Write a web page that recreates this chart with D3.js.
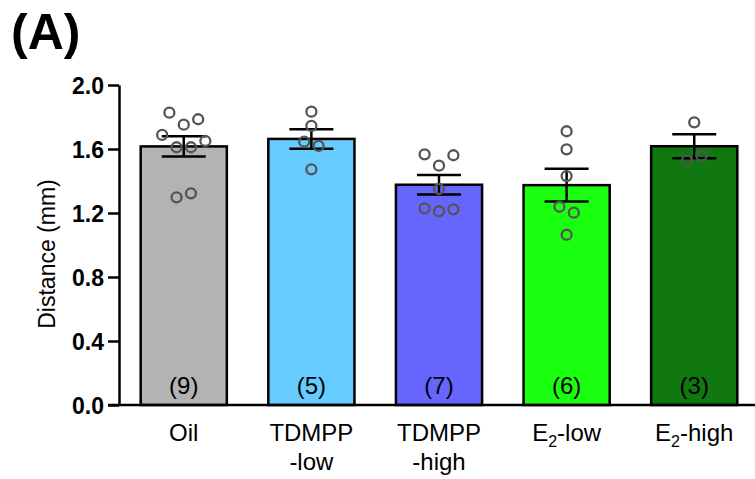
<!DOCTYPE html>
<html>
<head>
<meta charset="utf-8">
<script src="https://cdn.jsdelivr.net/npm/d3@7"></script>
<style>
  body { margin: 0; background: #fff; }
  svg { display: block; font-family: "Liberation Sans", Arial, sans-serif; }
</style>
</head>
<body>
<script>
// groups, colours and the individual animals (values in mm)
var groups = ["Oil", "TDMPP-low", "TDMPP-high", "E2-low", "E2-high"];
var colors = ["#b3b3b3", "#66ccff", "#6666ff", "#1aff0f", "#117711"];

var oilPts       = [1.827, 1.752, 1.786, 1.688, 1.650, 1.611, 1.611, 1.298, 1.323];
var tdmppLowPts  = [1.833, 1.744, 1.646, 1.619, 1.473];
var tdmppHighPts = [1.567, 1.561, 1.496, 1.350, 1.229, 1.211, 1.223];
var e2LowPts     = [1.711, 1.598, 1.431, 1.239, 1.202, 1.064];
var e2HighPts    = [1.767, 1.527, 1.558];

// column slot of each point in the scatter (as placed in the figure)
var oilSlots       = [-2, 0, 2, -3, 3, -1, 1, -1, 1];
var tdmppLowSlots  = [0, 0, -1, 1, 0];
var tdmppHighSlots = [-2, 2, 0, 0, -2, 0, 2];
var e2LowSlots     = [0, 0, 0, -1, 1, 0];
var e2HighSlots    = [0, -1, 1];

var yTicks = [0, 0.4, 0.8, 1.2, 1.6, 2.0];

var allPts = [oilPts, tdmppLowPts, tdmppHighPts, e2LowPts, e2HighPts];
var allSlots = [oilSlots, tdmppLowSlots, tdmppHighSlots, e2LowSlots, e2HighSlots];

var W = 755, H = 479;
var svg = d3.select("body").append("svg").attr("width", W).attr("height", H);

var x = d3.scaleBand().domain(groups).range([119, 759]).paddingInner(0.325).paddingOuter(0.17);
var y = d3.scaleLinear().domain([0, 2]).range([405, 85]);
var jit = d3.scaleLinear().domain([-3, 3]).range([-21.6, 21.6]);

// summary per group
var stats = groups.map(function(g, i){
    var v = allPts[i];
    var m = d3.mean(v);
    var sem = d3.deviation(v) / Math.sqrt(v.length);
    return {group: g, mean: m, sem: sem, n: v.length, color: colors[i]};
});

// bars
svg.selectAll("rect.bar").data(stats).enter()
   .append("rect")
   .attr("class", "bar")
   .attr("x", function(d){ return x(d.group); })
   .attr("y", function(d){ return y(d.mean); })
   .attr("width", x.bandwidth())
   .attr("height", function(d){ return y(0) - y(d.mean); })
   .attr("fill", function(d){ return d.color; })
   .attr("stroke", "#000")
   .attr("stroke-width", 2.5);

// n labels
svg.selectAll("text.n").data(stats).enter()
   .append("text")
   .attr("class", "n")
   .attr("x", function(d){ return x(d.group) + x.bandwidth() / 2; })
   .attr("y", 394)
   .attr("text-anchor", "middle")
   .attr("font-size", 24)
   .text(function(d){ return "(" + d.n + ")"; });

// error bars
var eb = svg.selectAll("g.err").data(stats).enter().append("g")
   .attr("class", "err")
   .attr("stroke", "#000")
   .attr("stroke-width", 2.5);
eb.append("line")
  .attr("x1", function(d){ return x(d.group) + x.bandwidth() / 2; })
  .attr("x2", function(d){ return x(d.group) + x.bandwidth() / 2; })
  .attr("y1", function(d){ return y(d.mean - d.sem); })
  .attr("y2", function(d){ return y(d.mean + d.sem); });
[-1, 1].forEach(function(s){
    eb.append("line")
      .attr("x1", function(d){ return x(d.group) + x.bandwidth() / 2 - 22; })
      .attr("x2", function(d){ return x(d.group) + x.bandwidth() / 2 + 22; })
      .attr("y1", function(d){ return y(d.mean + s * d.sem); })
      .attr("y2", function(d){ return y(d.mean + s * d.sem); });
});

// individual points
var pts = [];
groups.forEach(function(g, i){
    allPts[i].forEach(function(v, j){ pts.push({group: g, v: v, slot: allSlots[i][j]}); });
});
svg.selectAll("circle.pt").data(pts).enter()
   .append("circle")
   .attr("class", "pt")
   .attr("cx", function(d){ return x(d.group) + x.bandwidth() / 2 + jit(d.slot); })
   .attr("cy", function(d){ return y(d.v); })
   .attr("r", 5)
   .attr("fill", "none")
   .attr("stroke", "#555")
   .attr("stroke-width", 2.3);

// y axis
var yAxis = d3.axisLeft(y).tickValues(yTicks).tickSize(11).tickSizeOuter(0)
              .tickFormat(d3.format(".1f"));
var yg = svg.append("g").attr("transform", "translate(119,0)").call(yAxis);
yg.selectAll("path, line").attr("stroke", "#000").attr("stroke-width", 2.5);
yg.selectAll("text").attr("font-size", 23).attr("font-weight", "bold")
  .attr("font-family", "'Liberation Sans', Arial, sans-serif")
  .attr("fill", "#000").attr("x", -15).attr("dy", "0.36em");

// x axis line
svg.append("line")
   .attr("x1", 108).attr("x2", W)
   .attr("y1", y(0)).attr("y2", y(0))
   .attr("stroke", "#000").attr("stroke-width", 2.5);

// x labels
var labelLines = {
    "Oil": [["Oil"]],
    "TDMPP-low": [["TDMPP"], ["-low"]],
    "TDMPP-high": [["TDMPP"], ["-high"]],
    "E2-low": [["E", "2", "-low"]],
    "E2-high": [["E", "2", "-high"]]
};
groups.forEach(function(g){
    var cx = x(g) + x.bandwidth() / 2;
    labelLines[g].forEach(function(parts, li){
        var t = svg.append("text")
            .attr("x", cx).attr("y", 441 + li * 29)
            .attr("text-anchor", "middle")
            .attr("font-size", 24);
        if(parts.length == 1){
            t.text(parts[0]);
        }else{
            t.append("tspan").text(parts[0]);
            t.append("tspan").attr("font-size", 16).attr("dy", 6).text(parts[1]);
            t.append("tspan").attr("dy", -6).text(parts[2]);
        }
    });
});

// y title
svg.append("text")
   .attr("transform", "translate(55,254) rotate(-90)")
   .attr("text-anchor", "middle")
   .attr("font-size", 23)
   .text("Distance (mm)");

// panel letter
svg.append("text")
   .attr("x", 11).attr("y", 49)
   .attr("font-size", 50)
   .attr("font-weight", "bold")
   .text("(A)");
</script>
</body>
</html>
